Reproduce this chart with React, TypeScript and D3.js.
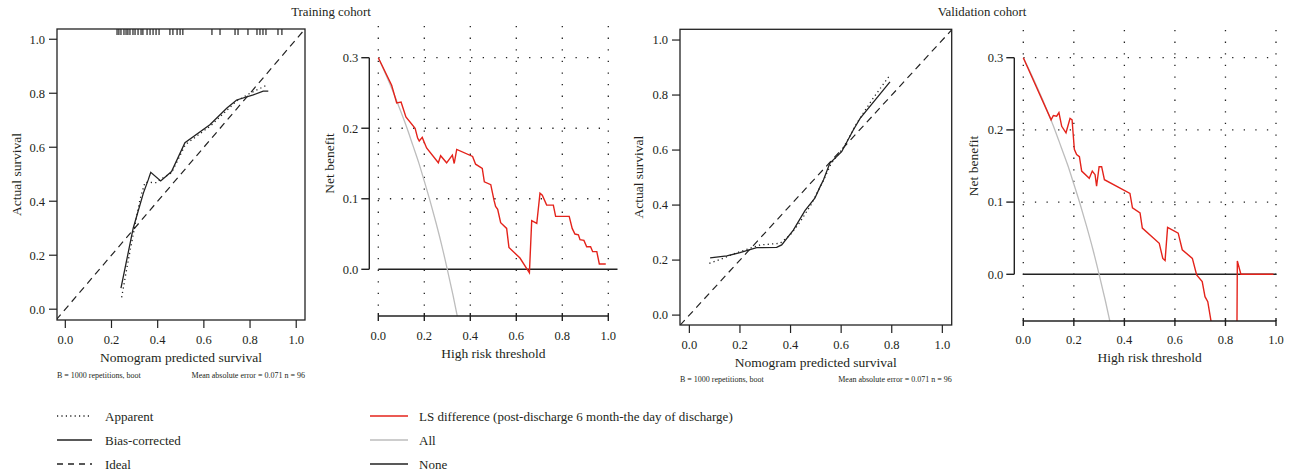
import React from "react";
import * as d3 from "d3";

type P = [number, number];

// ---------- DATA ----------
const calTicks = [0, 0.2, 0.4, 0.6, 0.8, 1.0];
const dcaXTicks = [0, 0.2, 0.4, 0.6, 0.8, 1.0];
const dcaYTicks = [0, 0.1, 0.2, 0.3];
const dcaGridY = [0.1, 0.2, 0.3];

const trainRug = [0.224, 0.232, 0.241, 0.254, 0.263, 0.271, 0.28, 0.293, 0.302, 0.315, 0.328, 0.336, 0.354, 0.367, 0.38, 0.393, 0.406, 0.453, 0.466, 0.484, 0.497, 0.509, 0.635, 0.67, 0.735, 0.748, 0.791, 0.83, 0.843, 0.856, 0.869, 0.921, 0.938];

const trainBias: P[] = [[0.241, 0.078], [0.294, 0.3], [0.338, 0.43], [0.359, 0.479], [0.37, 0.507], [0.413, 0.475], [0.46, 0.51], [0.518, 0.617], [0.626, 0.683], [0.7, 0.745], [0.742, 0.775], [0.814, 0.794], [0.857, 0.808], [0.879, 0.808]];
const trainApparent: P[] = [[0.244, 0.044], [0.273, 0.183], [0.323, 0.405], [0.345, 0.47], [0.396, 0.469], [0.41, 0.48], [0.46, 0.505], [0.52, 0.61], [0.63, 0.68], [0.74, 0.77], [0.8, 0.8], [0.872, 0.83]];

const validBias: P[] = [[0.082, 0.208], [0.148, 0.215], [0.2, 0.227], [0.266, 0.245], [0.345, 0.246], [0.365, 0.255], [0.411, 0.309], [0.457, 0.38], [0.496, 0.425], [0.517, 0.467], [0.53, 0.491], [0.555, 0.552], [0.602, 0.594], [0.648, 0.673], [0.675, 0.715], [0.793, 0.848]];
const validApparent: P[] = [[0.079, 0.188], [0.121, 0.202], [0.174, 0.222], [0.227, 0.239], [0.28, 0.255], [0.359, 0.261], [0.398, 0.291], [0.438, 0.339], [0.48, 0.4], [0.53, 0.49], [0.56, 0.55], [0.61, 0.61], [0.66, 0.695], [0.72, 0.78], [0.793, 0.873]];

const trainLS: P[] = [[0, 0.3], [0.058, 0.261], [0.08, 0.236], [0.099, 0.237], [0.12, 0.216], [0.16, 0.2], [0.171, 0.186], [0.178, 0.182], [0.191, 0.187], [0.21, 0.172], [0.261, 0.151], [0.271, 0.161], [0.297, 0.151], [0.322, 0.162], [0.33, 0.15], [0.341, 0.17], [0.41, 0.16], [0.423, 0.149], [0.452, 0.143], [0.461, 0.124], [0.489, 0.12], [0.503, 0.098], [0.51, 0.089], [0.519, 0.085], [0.532, 0.066], [0.558, 0.058], [0.568, 0.031], [0.616, 0.016], [0.657, -0.005], [0.667, 0.069], [0.689, 0.065], [0.703, 0.108], [0.713, 0.105], [0.732, 0.091], [0.761, 0.091], [0.771, 0.075], [0.83, 0.075], [0.843, 0.058], [0.855, 0.05], [0.87, 0.049], [0.877, 0.042], [0.894, 0.041], [0.906, 0.032], [0.923, 0.032], [0.932, 0.025], [0.95, 0.025], [0.961, 0.0075], [0.989, 0.0075]];

const validLS: P[] = [[0, 0.3], [0.11, 0.214], [0.119, 0.22], [0.132, 0.219], [0.141, 0.224], [0.152, 0.205], [0.169, 0.196], [0.185, 0.216], [0.193, 0.214], [0.202, 0.173], [0.211, 0.166], [0.222, 0.163], [0.231, 0.143], [0.261, 0.133], [0.273, 0.143], [0.284, 0.138], [0.29, 0.122], [0.3, 0.149], [0.31, 0.149], [0.321, 0.131], [0.422, 0.112], [0.432, 0.092], [0.462, 0.085], [0.471, 0.064], [0.538, 0.043], [0.552, 0.022], [0.561, 0.019], [0.571, 0.065], [0.613, 0.057], [0.629, 0.034], [0.669, 0.022], [0.686, -0.001], [0.708, -0.01], [0.719, -0.031], [0.73, -0.038], [0.742, -0.063], [0.76, -0.1], [0.845, -0.1], [0.847, 0.0185], [0.861, 0], [0.99, 0]];

const allTreat: P[] = [[0, 0.3], [0.025, 0.282], [0.05, 0.263], [0.075, 0.243], [0.1, 0.222], [0.125, 0.2], [0.15, 0.176], [0.175, 0.152], [0.2, 0.125], [0.225, 0.097], [0.25, 0.067], [0.275, 0.035], [0.3, 0.0], [0.325, -0.037], [0.35, -0.077]];

const calLegend = ["Apparent", "Bias-corrected", "Ideal"];
const dcaLegend = ["LS difference (post-discharge 6 month-the day of discharge)", "All", "None"];

// ---------- STYLE ----------
const FONT = "'Liberation Serif', 'DejaVu Serif', serif";
const TXT = "#231f20";
const RED = "#e4231b";
const GREY = "#bdbdbd";

type CalProps = {
  id: string;
  box: { l: number; r: number; t: number; b: number };
  xDom: [number, number];
  yDom: [number, number];
  bias: P[];
  apparent: P[];
  rug?: number[];
  tickLabelY: number;
  xLabelY: number;
  yLabelX: number;
  noteY: number;
};

function CalPanel(p: CalProps) {
  const { box } = p;
  const x = d3.scaleLinear().domain(p.xDom).range([box.l, box.r]);
  const y = d3.scaleLinear().domain(p.yDom).range([box.b, box.t]);
  const line = d3.line<P>().x((d) => x(d[0])).y((d) => y(d[1]));
  const lo = Math.min(p.xDom[0], p.yDom[0]);
  const hi = Math.max(p.xDom[1], p.yDom[1]);
  const cx = (box.l + box.r) / 2;
  const cy = (box.t + box.b) / 2;
  return (
    <g>
      <defs>
        <clipPath id={p.id}>
          <rect x={box.l} y={box.t} width={box.r - box.l} height={box.b - box.t} />
        </clipPath>
      </defs>
      <g clipPath={`url(#${p.id})`}>
        <path d={line([[lo, lo], [hi, hi]]) || ""} fill="none" stroke="#222" strokeWidth={1.2} strokeDasharray="7,5" />
        <path d={line(p.apparent) || ""} fill="none" stroke="#222" strokeWidth={1.3} strokeDasharray="1.2,3.2" />
        <path d={line(p.bias) || ""} fill="none" stroke="#222" strokeWidth={1.3} />
        {(p.rug || []).map((v, i) => (
          <line key={i} x1={x(v)} x2={x(v)} y1={box.t} y2={box.t + 6} stroke="#222" strokeWidth={1.2} />
        ))}
      </g>
      <rect x={box.l} y={box.t} width={box.r - box.l} height={box.b - box.t} fill="none" stroke="#222" strokeWidth={1.3} />
      {calTicks.map((t) => (
        <g key={"y" + t}>
          <line x1={box.l - 8} x2={box.l} y1={y(t)} y2={y(t)} stroke="#222" strokeWidth={1.2} />
          <text x={box.l - 12} y={y(t)} dy="0.35em" textAnchor="end" fontSize={12.5} fill={TXT}>{t.toFixed(1)}</text>
        </g>
      ))}
      {calTicks.map((t) => (
        <g key={"x" + t}>
          <line x1={x(t)} x2={x(t)} y1={box.b} y2={box.b + 8} stroke="#222" strokeWidth={1.2} />
          <text x={x(t)} y={p.tickLabelY} dy="0.35em" textAnchor="middle" fontSize={12.5} fill={TXT}>{t.toFixed(1)}</text>
        </g>
      ))}
      <text x={cx} y={p.xLabelY} dy="0.35em" textAnchor="middle" fontSize={13.5} fill={TXT}>Nomogram predicted survival</text>
      <text transform={`translate(${p.yLabelX},${cy}) rotate(-90)`} dy="0.35em" textAnchor="middle" fontSize={13.5} fill={TXT}>Actual survival</text>
      <text x={box.l} y={p.noteY} dy="0.35em" fontSize={8} fill={TXT}>B = 1000 repetitions, boot</text>
      <text x={box.r} y={p.noteY} dy="0.35em" textAnchor="end" fontSize={8} fill={TXT}>Mean absolute error = 0.071 n = 96</text>
    </g>
  );
}

type DcaProps = {
  id: string;
  x0: number; x1: number;
  yZero: number; yTop: number;
  plotTop: number; plotBottom: number;
  axisX: number;
  red: P[];
  noneEnd: number;
  tickLabelY: number;
  xLabelY: number;
  yLabelX: number;
};

function DcaPanel(p: DcaProps) {
  const x = d3.scaleLinear().domain([0, 1]).range([p.x0, p.x1]);
  const y = d3.scaleLinear().domain([0, 0.3]).range([p.yZero, p.yTop]);
  const line = d3.line<P>().x((d) => x(d[0])).y((d) => y(d[1]));
  const allLine = d3.line<P>().x((d) => x(d[0])).y((d) => y(d[1])).curve(d3.curveMonotoneX);
  const cx = (p.x0 + p.x1) / 2;
  const cy = (y(0) + y(0.3)) / 2;
  return (
    <g>
      <defs>
        <clipPath id={p.id}>
          <rect x={p.x0 - 3} y={p.plotTop} width={x(1.06) - p.x0 + 3} height={p.plotBottom - p.plotTop} />
        </clipPath>
      </defs>
      {dcaXTicks.map((t) => (
        <line key={"gx" + t} x1={x(t)} x2={x(t)} y1={p.plotTop} y2={p.plotBottom} stroke="#222" strokeWidth={1.3} strokeDasharray="1.3,10.3" />
      ))}
      {dcaGridY.map((t) => (
        <line key={"gy" + t} x1={x(0)} x2={x(1)} y1={y(t)} y2={y(t)} stroke="#222" strokeWidth={1.3} strokeDasharray="1.3,10.3" />
      ))}
      <g clipPath={`url(#${p.id})`}>
        <line x1={x(0)} x2={x(p.noneEnd)} y1={y(0)} y2={y(0)} stroke="#222" strokeWidth={1.5} />
        <path d={allLine(allTreat) || ""} fill="none" stroke={GREY} strokeWidth={1.3} />
        <path d={line(p.red) || ""} fill="none" stroke={RED} strokeWidth={1.4} />
      </g>
      <line x1={p.axisX} x2={p.axisX} y1={y(0)} y2={y(0.3)} stroke="#222" strokeWidth={1.4} />
      {dcaYTicks.map((t) => (
        <g key={"y" + t}>
          <line x1={p.axisX - 8} x2={p.axisX} y1={y(t)} y2={y(t)} stroke="#222" strokeWidth={1.4} />
          <text x={p.axisX - 11} y={y(t)} dy="0.35em" textAnchor="end" fontSize={12.5} fill={TXT}>{t.toFixed(1)}</text>
        </g>
      ))}
      <line x1={x(0)} x2={x(1)} y1={p.plotBottom} y2={p.plotBottom} stroke="#222" strokeWidth={1.4} />
      {dcaXTicks.map((t) => (
        <g key={"x" + t}>
          <line x1={x(t)} x2={x(t)} y1={p.plotBottom - 3} y2={p.plotBottom + 5} stroke="#222" strokeWidth={1.4} />
          <text x={x(t)} y={p.tickLabelY} dy="0.35em" textAnchor="middle" fontSize={12.5} fill={TXT}>{t.toFixed(1)}</text>
        </g>
      ))}
      <text x={cx} y={p.xLabelY} dy="0.35em" textAnchor="middle" fontSize={13.5} fill={TXT}>High risk threshold</text>
      <text transform={`translate(${p.yLabelX},${cy}) rotate(-90)`} dy="0.35em" textAnchor="middle" fontSize={13.5} fill={TXT}>Net benefit</text>
    </g>
  );
}

export default function App() {
  const legY = [416, 440, 464];
  const calDash = ["1.2,3.2", "", "6,5"];
  const dcaCols = [RED, GREY, "#222"];
  return (
    <svg width={1289} height={472} style={{ position: "absolute", left: 0, top: 0, background: "#fff" }} fontFamily={FONT}>
      <rect x={0} y={0} width={1289} height={472} fill="#fff" />
      <text x={331} y={16} textAnchor="middle" fontSize={12.8} fill={TXT}>Training cohort</text>
      <text x={982} y={16} textAnchor="middle" fontSize={12.8} fill={TXT}>Validation cohort</text>

      <CalPanel id="c1" box={{ l: 57, r: 305, t: 29, b: 320 }} xDom={[-0.036, 1.038]} yDom={[-0.04, 1.038]}
        bias={trainBias} apparent={trainApparent} rug={trainRug}
        tickLabelY={340} xLabelY={357} yLabelX={16} noteY={375} />
      <DcaPanel id="d1" x0={378.3} x1={608.3} yZero={269.3} yTop={57.7} plotTop={26} plotBottom={316}
        axisX={369.3} red={trainLS} noneEnd={1.04} tickLabelY={336} xLabelY={353} yLabelX={329} />
      <CalPanel id="c2" box={{ l: 680, r: 951.7, t: 29.3, b: 325 }} xDom={[-0.037, 1.037]} yDom={[-0.036, 1.039]}
        bias={validBias} apparent={validApparent}
        tickLabelY={345} xLabelY={362} yLabelX={638} noteY={379} />
      <DcaPanel id="d2" x0={1023.3} x1={1276} yZero={274.3} yTop={57.7} plotTop={30} plotBottom={321}
        axisX={1014.3} red={validLS} noneEnd={1.0} tickLabelY={340} xLabelY={357} yLabelX={973} />

      {calLegend.map((s, i) => (
        <g key={s}>
          <line x1={57} x2={92} y1={legY[i]} y2={legY[i]} stroke="#222" strokeWidth={1.3} strokeDasharray={calDash[i] || undefined} />
          <text x={105} y={legY[i]} dy="0.35em" fontSize={13} fill={TXT}>{s}</text>
        </g>
      ))}
      {dcaLegend.map((s, i) => (
        <g key={s}>
          <line x1={370} x2={408} y1={legY[i]} y2={legY[i]} stroke={dcaCols[i]} strokeWidth={1.5} />
          <text x={419} y={legY[i]} dy="0.35em" fontSize={13} fill={TXT}>{s}</text>
        </g>
      ))}
    </svg>
  );
}
